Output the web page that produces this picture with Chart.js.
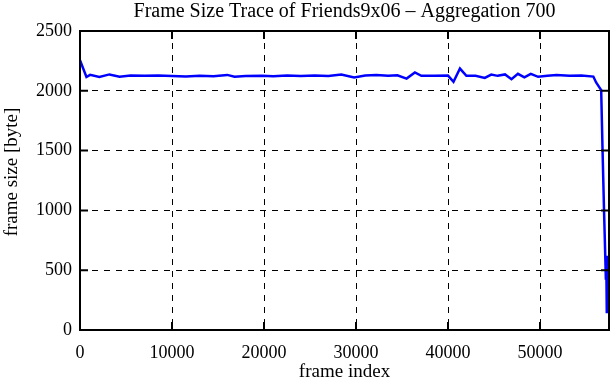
<!DOCTYPE html>
<html>
<head>
<meta charset="utf-8">
<script src="https://cdn.jsdelivr.net/npm/chart.js@4"></script>
<style>
  html, body { margin: 0; padding: 0; background: #fff; }
  #wrap { width: 611px; height: 380px; }
</style>
</head>
<body>
<div id="wrap"><canvas id="traceChart" width="611" height="380"></canvas></div>
<script>
// frame index (x) and aggregated frame size in bytes (y)
const frameIndex = [
    0, 700, 1100, 2100, 3200, 4300, 5500, 7000, 8500, 10000,
    11500, 13000, 14500, 16000, 16800, 18000, 19800, 21000, 22500, 24000,
    25500, 27000, 28400, 29800, 31000, 32200, 33500, 34500, 35500, 36400,
    37100, 38500, 40000, 40600, 41300, 42000, 43000, 44000, 44700, 45400,
    46200, 46900, 47600, 48300, 49000, 49800, 50800, 51800, 53200, 54500,
    55800, 56100, 56650, 56800, 56960, 57100, 57160, 57200, 57260
];
const frameSize = [
    2255, 2115, 2133, 2115, 2137, 2117, 2127, 2125, 2128, 2124,
    2120, 2125, 2122, 2133, 2117, 2124, 2125, 2122, 2128, 2124,
    2128, 2124, 2137, 2111, 2128, 2133, 2125, 2130, 2102, 2153,
    2125, 2125, 2127, 2075, 2186, 2125, 2125, 2108, 2136, 2125,
    2137, 2097, 2142, 2112, 2142, 2117, 2125, 2133, 2125, 2127,
    2119, 2070, 2006, 1500, 1000, 600, 420, 620, 140
];
const xTicks = [0, 10000, 20000, 30000, 40000, 50000];
const yTicks = [0, 500, 1000, 1500, 2000, 2500];
const chartTitle = 'Frame Size Trace of Friends9x06 \u2013 Aggregation 700';
const yTitle = 'frame size [byte]';

const serif = '"Liberation Serif", "DejaVu Serif", serif';

// gnuplot style frame: full box, inward ticks, title over the plot, ylabel
const framePlugin = {
    id: 'frame',
    afterDraw(chart) {
        const { ctx, chartArea: a, scales } = chart;
        ctx.save();
        ctx.strokeStyle = '#000';
        ctx.lineWidth = 2;
        ctx.setLineDash([]);
        ctx.strokeRect(a.left, a.top, a.right - a.left, a.bottom - a.top);
        ctx.beginPath();
        scales.x.ticks.forEach(t => {
            const px = scales.x.getPixelForValue(t.value);
            ctx.moveTo(px, a.bottom); ctx.lineTo(px, a.bottom - 8);
            ctx.moveTo(px, a.top); ctx.lineTo(px, a.top + 8);
        });
        scales.y.ticks.forEach(t => {
            const py = scales.y.getPixelForValue(t.value);
            ctx.moveTo(a.left, py); ctx.lineTo(a.left + 8, py);
            ctx.moveTo(a.right, py); ctx.lineTo(a.right - 8, py);
        });
        ctx.stroke();

        ctx.fillStyle = '#000';
        ctx.textAlign = 'center';
        ctx.textBaseline = 'middle';
        ctx.font = '20px ' + serif;
        ctx.fillText(chartTitle, (a.left + a.right) / 2, 12);

        ctx.font = '19px ' + serif;
        ctx.translate(12, 172);
        ctx.rotate(-Math.PI / 2);
        ctx.fillText(yTitle, 0, 0);
        ctx.restore();
    }
};

new Chart(document.getElementById('traceChart').getContext('2d'), {
    type: 'line',
    data: {
        datasets: [{
            data: frameIndex.map((x, i) => ({ x: x, y: frameSize[i] })),
            borderColor: 'rgb(0, 0, 255)',
            borderWidth: 2.5,
            pointRadius: 0,
            tension: 0,
            fill: false
        }]
    },
    options: {
        responsive: false,
        animation: false,
        layout: { padding: { top: 31, right: 2, left: 0, bottom: 0 } },
        plugins: {
            legend: { display: false },
            tooltip: { enabled: false },
            title: { display: false }
        },
        scales: {
            x: {
                type: 'linear',
                min: 0,
                max: 57500,
                afterBuildTicks: s => { s.ticks = xTicks.map(v => ({ value: v })); },
                afterFit: s => { s.height = 50; },
                ticks: {
                    autoSkip: false,
                    color: '#000',
                    padding: 12,
                    maxRotation: 0,
                    font: { family: serif, size: 18 },
                    callback: v => String(v)
                },
                grid: { color: '#000', lineWidth: 1, drawTicks: false },
                border: { display: false, dash: [6, 6] },
                title: {
                    display: true,
                    text: 'frame index',
                    color: '#000',
                    font: { family: serif, size: 19 },
                    padding: { top: 0, bottom: -3 }
                }
            },
            y: {
                min: 0,
                max: 2500,
                afterBuildTicks: s => { s.ticks = yTicks.map(v => ({ value: v })); },
                afterFit: s => { s.width = 80; },
                ticks: {
                    autoSkip: false,
                    color: '#000',
                    padding: 8,
                    font: { family: serif, size: 18 },
                    callback: v => String(v)
                },
                grid: { color: '#000', lineWidth: 1, drawTicks: false },
                border: { display: false, dash: [6, 6] },
                title: { display: false }
            }
        }
    },
    plugins: [framePlugin]
});
</script>
</body>
</html>
